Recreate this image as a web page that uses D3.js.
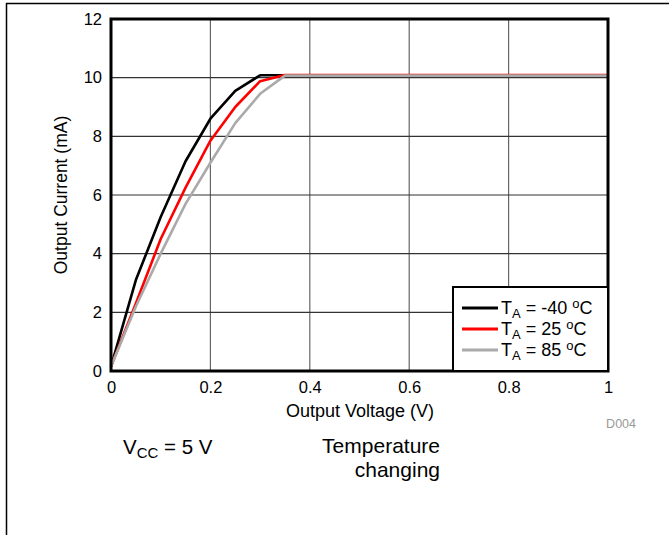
<!DOCTYPE html>
<html><head><meta charset="utf-8">
<script src="https://cdn.jsdelivr.net/npm/d3@7"></script>
<style>body{margin:0;background:#fff}svg{display:block;font-family:"Liberation Sans",Arial,sans-serif}</style>
</head><body>
<script>
const voltage = [0,0.05,0.1,0.15,0.2,0.25,0.3,0.35,0.4,0.5,0.6,0.7,0.8,0.9,1.0];
const currentM40 = [0.15,3.1,5.25,7.15,8.6,9.55,10.08,10.08,10.08,10.08,10.08,10.08,10.08,10.08,10.08];
const current25 = [0.15,2.3,4.5,6.25,7.85,9.0,9.88,10.09,10.09,10.09,10.09,10.09,10.09,10.09,10.09];
const current85 = [0.15,2.2,4.0,5.7,7.1,8.45,9.45,10.07,10.07,10.07,10.07,10.07,10.07,10.07,10.07];
const xTicks = [0,0.2,0.4,0.6,0.8,1];
const yTicks = [0,2,4,6,8,10,12];
const seriesNames = ["-40","25","85"];
const seriesColors = ["#000000","#ff0000","#aaaaaa"];

const W=669,H=535;
const svg=d3.select("body").append("svg").attr("width",W).attr("height",H);
const x=d3.scaleLinear().domain([0,1]).range([111,608]);
const y=d3.scaleLinear().domain([0,12]).range([371,19]);

// page border
svg.append("line").attr("x1",6).attr("x2",W).attr("y1",3.5).attr("y2",3.5).attr("stroke","#000").attr("stroke-width",1.5);
svg.append("line").attr("x1",6.5).attr("x2",6.5).attr("y1",3).attr("y2",H).attr("stroke","#000").attr("stroke-width",1.5);

// grid
svg.append("g").selectAll("line").data(xTicks.slice(1,-1)).join("line")
  .attr("x1",d=>x(d)).attr("x2",d=>x(d)).attr("y1",y(12)).attr("y2",y(0))
  .attr("stroke","#666").attr("stroke-width",1.2);
svg.append("g").selectAll("line").data(yTicks.slice(1,-1)).join("line")
  .attr("x1",x(0)).attr("x2",x(1)).attr("y1",d=>y(d)).attr("y2",d=>y(d))
  .attr("stroke","#333").attr("stroke-width",1.2);

// axes tick labels
const xAxis=d3.axisBottom(x).tickValues(xTicks).tickSize(0).tickPadding(10).tickFormat(d3.format(""));
const gx=svg.append("g").attr("transform",`translate(0,${y(0)})`).call(xAxis);
gx.select(".domain").remove();
gx.selectAll("text").attr("font-size",16.5).attr("fill","#000").attr("font-family","Liberation Sans, Arial, sans-serif");
const yAxis=d3.axisLeft(y).tickValues(yTicks).tickSize(0).tickPadding(9).tickFormat(d3.format(""));
const gy=svg.append("g").attr("transform",`translate(${x(0)},0)`).call(yAxis);
gy.select(".domain").remove();
gy.selectAll("text").attr("font-size",16.5).attr("fill","#000").attr("font-family","Liberation Sans, Arial, sans-serif");

// lines
const series=[currentM40,current25,current85];
const line=d3.line().x((d,i)=>x(voltage[i])).y(d=>y(d));
series.forEach((s,k)=>{
  svg.append("path").datum(s).attr("d",line).attr("fill","none")
    .attr("stroke",seriesColors[k]).attr("stroke-width",2.6).attr("stroke-linejoin","round");
});

// frame
svg.append("rect").attr("x",x(0)).attr("y",y(12)).attr("width",x(1)-x(0)).attr("height",y(0)-y(12))
  .attr("fill","none").attr("stroke","#000").attr("stroke-width",3);

// axis titles
svg.append("text").attr("x",360).attr("y",417).attr("text-anchor","middle").attr("font-size",18).text("Output Voltage (V)");
svg.append("text").attr("transform",`translate(67,${(y(0)+y(12))/2}) rotate(-90)`).attr("text-anchor","middle").attr("font-size",17.5).text("Output Current (mA)");

// legend
const lg=svg.append("g");
lg.append("rect").attr("x",453).attr("y",287).attr("width",x(1)-453).attr("height",y(0)-287)
  .attr("fill","#fff").attr("stroke","#000").attr("stroke-width",2);
seriesNames.forEach((n,k)=>{
  const yy=308+k*21;
  lg.append("line").attr("x1",462).attr("x2",498).attr("y1",yy).attr("y2",yy).attr("stroke",seriesColors[k]).attr("stroke-width",3);
  const t=lg.append("text").attr("x",501).attr("y",yy+6).attr("font-size",18);
  t.append("tspan").text("T");
  t.append("tspan").attr("font-size",13).attr("dy",4).text("A");
  t.append("tspan").attr("dy",-4).text(" = "+n+" ");
  t.append("tspan").attr("font-size",13).attr("dy",-6).text("o");
  t.append("tspan").attr("dy",6).text("C");
});

// annotations
svg.append("text").attr("x",636).attr("y",428).attr("text-anchor","end").attr("font-size",12.5).attr("fill","#999").text("D004");
const v=svg.append("text").attr("x",123).attr("y",454).attr("font-size",20.5);
v.append("tspan").text("V");
v.append("tspan").attr("font-size",15).attr("dy",4).text("CC");
v.append("tspan").attr("dy",-4).text(" = 5 V");
svg.append("text").attr("x",440).attr("y",453).attr("text-anchor","end").attr("font-size",21).text("Temperature");
svg.append("text").attr("x",440).attr("y",477).attr("text-anchor","end").attr("font-size",21).text("changing");
</script>
</body></html>
